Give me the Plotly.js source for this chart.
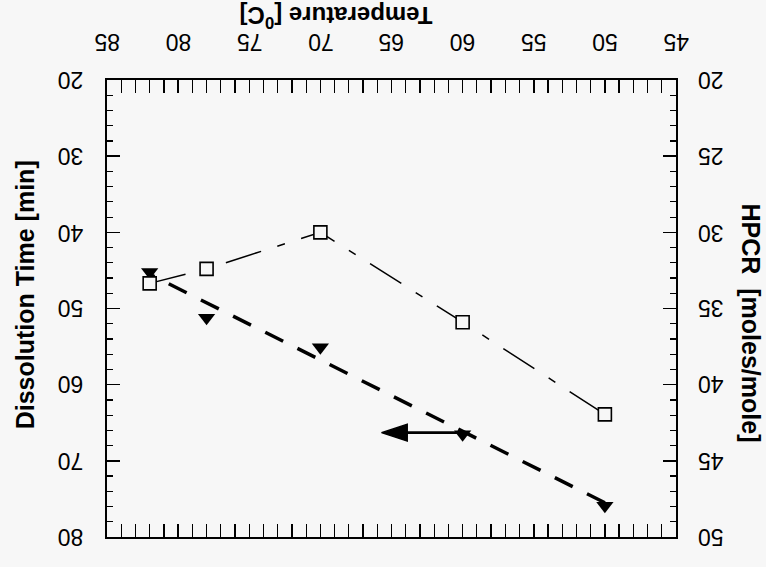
<!DOCTYPE html>
<html>
<head>
<meta charset="utf-8">
<script src="https://cdn.plot.ly/plotly-3.0.1.min.js"></script>
<style>html,body{margin:0;padding:0;background:#f7f7f7;}#chart{width:766px;height:567px;}</style>
</head>
<body>
<div id="chart"></div>
<script>
// Temperatures [°C]
var temps = [82, 78, 70, 60, 50];
// HPCR [moles/mole] (open squares, right axis)
var hpcr = [33.35, 32.4, 30.0, 35.9, 41.95];
// Dissolution time [min] (filled triangles, left axis)
var dissTime = [45.2, 51.2, 55.1, 66.5, 75.9];
// Dashed trend line through dissolution times (endpoints)
var trendTemps = [50, 82];
var trendTime = [75.5, 45.5];
// Arrow: tail and head temperature, at one dissolution time
var arrowTemps = [60, 65.7];
var arrowTime = [66.3, 66.3];
// Tick values
var xTicks = [85, 80, 75, 70, 65, 60, 55, 50, 45];
var yTicks = [20, 30, 40, 50, 60, 70, 80];
var y2Ticks = [20, 25, 30, 35, 40, 45, 50];

var FONT = 'Liberation Sans, Arial, Helvetica, sans-serif';
var BG = '#f7f7f7';

var traces = [
  {
    x: temps, y: hpcr, yaxis: 'y2', type: 'scatter', mode: 'lines+markers',
    line: {color: '#000', width: 1.5, dash: '37px,17px,8px,17px'},
    marker: {symbol: 'square', size: 13, color: BG, line: {color: '#000', width: 1.6}},
    hoverinfo: 'skip'
  },
  {
    x: trendTemps, y: trendTime, yaxis: 'y', type: 'scatter', mode: 'lines',
    line: {color: '#000', width: 3.5, dash: '20px,16px'},
    hoverinfo: 'skip'
  },
  {
    x: temps, y: dissTime, yaxis: 'y', type: 'scatter', mode: 'markers',
    marker: {symbol: 'triangle-down', size: 15, color: '#000'},
    hoverinfo: 'skip'
  },
  {
    x: arrowTemps, y: arrowTime, yaxis: 'y', type: 'scatter', mode: 'lines+markers',
    line: {color: '#000', width: 2.6},
    marker: {symbol: 'arrow', size: [0, 27], angleref: 'previous', color: '#000', opacity: 1,
             line: {width: 1.5, color: '#000'}},
    hoverinfo: 'skip'
  }
];

function axisBase() {
  return {
    showgrid: false, zeroline: false, showline: true, linecolor: '#000', linewidth: 2,
    ticks: 'inside', ticklen: 13, tickwidth: 1.5, tickcolor: '#000',
    showticklabels: false, tickmode: 'array'
  };
}
function minorTicks(d) {
  return {dtick: d, ticks: 'inside', ticklen: 6, tickwidth: 1.2, tickcolor: '#000'};
}

var tickFont = {family: FONT, size: 23, color: '#000'};
var annotations = [];
xTicks.forEach(function (v) {
  annotations.push({text: String(v), textangle: 180, showarrow: false,
    xref: 'x', yref: 'paper', x: v, y: 1.082, xanchor: 'center', yanchor: 'middle', font: tickFont});
});
yTicks.forEach(function (v) {
  annotations.push({text: String(v), textangle: 180, showarrow: false,
    xref: 'paper', yref: 'y', x: -0.064, y: v, xanchor: 'center', yanchor: 'middle', font: tickFont});
});
y2Ticks.forEach(function (v) {
  annotations.push({text: String(v), textangle: 180, showarrow: false,
    xref: 'paper', yref: 'y2', x: 1.061, y: v, xanchor: 'center', yanchor: 'middle', font: tickFont});
});
annotations.push(
  {
    text: 'Temperature [<sup>0</sup>C]', textangle: 180, showarrow: false,
    xref: 'paper', yref: 'paper', x: 0.402, y: 1.138, xanchor: 'center', yanchor: 'middle',
    font: {family: FONT, size: 24, color: '#000', weight: 'bold'}
  },
  {
    text: 'Dissolution Time [min]', textangle: -90, showarrow: false,
    xref: 'paper', yref: 'paper', x: -0.145, y: 0.53, xanchor: 'center', yanchor: 'middle',
    font: {family: FONT, size: 25, color: '#000', weight: 'bold'}
  },
  {
    text: 'HPCR  [moles/mole]', textangle: 90, showarrow: false,
    xref: 'paper', yref: 'paper', x: 1.132, y: 0.469, xanchor: 'center', yanchor: 'middle',
    font: {family: FONT, size: 25, color: '#000', weight: 'bold'}
  }
);

var layout = {
  width: 766, height: 567,
  paper_bgcolor: BG, plot_bgcolor: BG,
  showlegend: false,
  margin: {l: 107, r: 90, t: 80, b: 30},
  xaxis: Object.assign(axisBase(), {
    side: 'top', range: [85, 45], tickvals: xTicks, mirror: 'allticks', minor: minorTicks(1)
  }),
  yaxis: Object.assign(axisBase(), {
    side: 'left', range: [80, 20], tickvals: yTicks, minor: minorTicks(2)
  }),
  yaxis2: Object.assign(axisBase(), {
    side: 'right', overlaying: 'y', range: [50, 20], tickvals: y2Ticks, minor: minorTicks(1)
  }),
  annotations: annotations
};

Plotly.newPlot('chart', traces, layout, {staticPlot: true, displayModeBar: false});
</script>
</body>
</html>
